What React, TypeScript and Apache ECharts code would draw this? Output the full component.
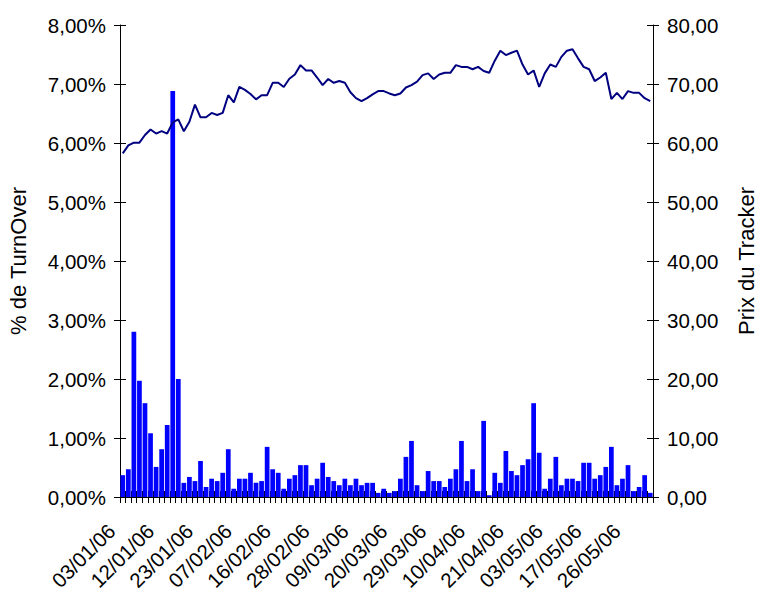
import React, { useEffect, useRef } from "react";
import * as echarts from "echarts";

const dates: string[] = [
  "03/01/06", "04/01/06", "05/01/06", "06/01/06", "09/01/06", "10/01/06", "11/01/06",
  "12/01/06", "13/01/06", "16/01/06", "17/01/06", "18/01/06", "19/01/06", "20/01/06",
  "23/01/06", "24/01/06", "26/01/06", "27/01/06", "31/01/06", "02/02/06", "06/02/06",
  "07/02/06", "08/02/06", "09/02/06", "10/02/06", "13/02/06", "14/02/06", "15/02/06",
  "16/02/06", "17/02/06", "21/02/06", "22/02/06", "23/02/06", "24/02/06", "27/02/06",
  "28/02/06", "01/03/06", "02/03/06", "03/03/06", "06/03/06", "07/03/06", "08/03/06",
  "09/03/06", "10/03/06", "13/03/06", "14/03/06", "15/03/06", "16/03/06", "17/03/06",
  "20/03/06", "21/03/06", "22/03/06", "23/03/06", "24/03/06", "27/03/06", "28/03/06",
  "29/03/06", "30/03/06", "31/03/06", "03/04/06", "04/04/06", "06/04/06", "07/04/06",
  "10/04/06", "11/04/06", "12/04/06", "13/04/06", "18/04/06", "19/04/06", "20/04/06",
  "21/04/06", "24/04/06", "25/04/06", "26/04/06", "27/04/06", "28/04/06", "02/05/06",
  "03/05/06", "04/05/06", "05/05/06", "09/05/06", "11/05/06", "12/05/06", "16/05/06",
  "17/05/06", "18/05/06", "19/05/06", "22/05/06", "23/05/06", "24/05/06", "25/05/06",
  "26/05/06", "29/05/06", "30/05/06", "31/05/06", "01/06/06",
];

// % de TurnOver (left axis, in percent)
const turnover: number[] = [
  0.37, 0.47, 2.8, 1.97, 1.59, 1.08, 0.51, 0.81, 1.22, 6.88,
  2.0, 0.24, 0.34, 0.27, 0.61, 0.17, 0.31, 0.27, 0.41, 0.81,
  0.14, 0.31, 0.31, 0.41, 0.24, 0.27, 0.85, 0.47, 0.41, 0.14,
  0.31, 0.37, 0.54, 0.54, 0.2, 0.31, 0.58, 0.34, 0.27, 0.2,
  0.31, 0.2, 0.31, 0.2, 0.24, 0.24, 0.07, 0.14, 0.07, 0.1,
  0.31, 0.68, 0.95, 0.2, 0.1, 0.44, 0.27, 0.27, 0.17, 0.31,
  0.47, 0.95, 0.27, 0.47, 0.1, 1.29, 0.03, 0.41, 0.24, 0.78,
  0.44, 0.37, 0.54, 0.64, 1.59, 0.75, 0.14, 0.31, 0.68, 0.2,
  0.31, 0.31, 0.27, 0.58, 0.58, 0.31, 0.37, 0.51, 0.85, 0.2,
  0.31, 0.54, 0.1, 0.17, 0.37, 0.07,
];

// Prix du Tracker (right axis)
const price: number[] = [
  58.25, 59.6, 60.05, 60.05, 61.35, 62.3, 61.6, 62.0, 61.6, 63.5,
  64.0, 62.0, 63.6, 66.5, 64.35, 64.35, 65.1, 64.75, 65.1, 68.1,
  66.9, 69.5, 69.0, 68.3, 67.4, 68.1, 68.1, 70.2, 70.2, 69.5,
  70.9, 71.6, 73.2, 72.3, 72.3, 71.1, 69.8, 70.85, 70.2, 70.5,
  70.2, 68.6, 67.6, 67.1, 67.6, 68.25, 68.8, 68.8, 68.4, 68.1,
  68.4, 69.4, 69.8, 70.4, 71.5, 71.8, 70.85, 71.6, 71.9, 71.9,
  73.2, 72.9, 72.9, 72.5, 72.9, 72.2, 71.9, 73.95, 75.65, 74.9,
  75.3, 75.65, 73.3, 71.6, 72.3, 69.5, 71.8, 73.3, 72.9, 74.6,
  75.65, 75.9, 74.35, 72.9, 72.5, 70.5, 71.1, 71.9, 67.45, 68.5,
  67.45, 68.8, 68.5, 68.5, 67.6, 67.1,
];

const leftAxis = { min: 0, max: 8, interval: 1 };
const rightAxis = { min: 0, max: 80, interval: 10 };
const leftName = "% de TurnOver";
const rightName = "Prix du Tracker";

const FONT = "'Liberation Sans', Arial, sans-serif";
const LABEL_SIZE = 20.5;
const NAME_SIZE = 22;

export default function App() {
  const ref = useRef<HTMLDivElement>(null);
  useEffect(() => {
    if (!ref.current) return;
    const chart = echarts.init(ref.current, null, { renderer: "svg" });
    const black = { color: "#000", width: 1 };
    const option: any = {
      animation: false,
      textStyle: { fontFamily: FONT },
      grid: {
        left: 120,
        right: 104,
        top: 25,
        bottom: 96,
        containLabel: false,
        outerBoundsMode: "none",
      },
      xAxis: [
        {
          type: "category",
          data: dates,
          boundaryGap: true,
          axisLine: { show: true, lineStyle: black },
          axisTick: { show: true, interval: 0, length: 6, lineStyle: black },
          axisLabel: {
            interval: 6,
            rotate: 45,
            fontSize: LABEL_SIZE,
            fontFamily: FONT,
            color: "#000",
            margin: 19,
            padding: [0, 16, 0, 0],
          },
          splitLine: { show: false },
        },
        {
          type: "category",
          data: dates,
          position: "bottom",
          boundaryGap: true,
          axisLine: { show: false },
          axisTick: { show: true, inside: true, interval: 0, length: 6, lineStyle: black },
          axisLabel: { show: false },
          splitLine: { show: false },
        },
      ],
      yAxis: [
        {
          type: "value",
          position: "left",
          ...leftAxis,
          name: leftName,
          nameLocation: "middle",
          nameRotate: 90,
          nameGap: 91,
          nameTextStyle: { fontSize: NAME_SIZE, fontFamily: FONT, color: "#000" },
          axisLine: { show: true, lineStyle: black },
          axisTick: { show: true, length: 6, lineStyle: black },
          axisLabel: {
            fontSize: LABEL_SIZE,
            fontFamily: FONT,
            color: "#000",
            margin: 14,
            formatter: (v: number) => v.toFixed(2).replace(".", ",") + "%",
          },
          splitLine: { show: false },
        },
        {
          type: "value",
          position: "right",
          ...rightAxis,
          name: rightName,
          nameLocation: "middle",
          nameRotate: 90,
          nameGap: 82,
          nameTextStyle: { fontSize: NAME_SIZE, fontFamily: FONT, color: "#000" },
          axisLine: { show: true, lineStyle: black },
          axisTick: { show: true, length: 6, lineStyle: black },
          axisLabel: {
            fontSize: LABEL_SIZE,
            fontFamily: FONT,
            color: "#000",
            margin: 14,
            formatter: (v: number) => v.toFixed(2).replace(".", ","),
          },
          splitLine: { show: false },
        },
        {
          type: "value",
          position: "left",
          ...leftAxis,
          axisLine: { show: false },
          axisTick: { show: true, inside: true, length: 6, lineStyle: black },
          axisLabel: { show: false },
          splitLine: { show: false },
        },
        {
          type: "value",
          position: "right",
          ...rightAxis,
          axisLine: { show: false },
          axisTick: { show: true, inside: true, length: 6, lineStyle: black },
          axisLabel: { show: false },
          splitLine: { show: false },
        },
      ],
      series: [
        {
          type: "bar",
          data: turnover,
          xAxisIndex: 0,
          yAxisIndex: 0,
          barCategoryGap: "15%",
          itemStyle: { color: "#0000FF" },
          z: 2,
        },
        {
          type: "line",
          data: price,
          xAxisIndex: 0,
          yAxisIndex: 1,
          symbol: "none",
          showSymbol: false,
          lineStyle: { color: "#000080", width: 2 },
          z: 3,
        },
      ],
    };
    chart.setOption(option);
    return () => chart.dispose();
  }, []);
  return (
    <div
      ref={ref}
      style={{ position: "absolute", left: 0, top: 0, width: 757, height: 593, background: "#fff" }}
    />
  );
}
